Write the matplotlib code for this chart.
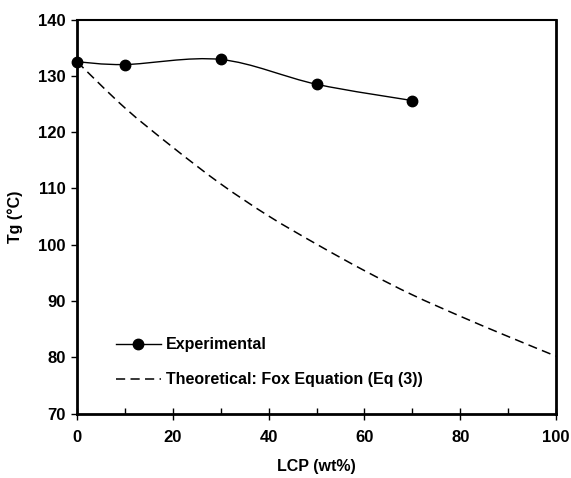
import matplotlib

matplotlib.use("Agg")
import matplotlib.pyplot as plt
from matplotlib.lines import Line2D
from matplotlib.patches import PathPatch
from matplotlib.path import Path

plt.rcParams["font.family"] = ["Liberation Sans", "DejaVu Sans"]
plt.rcParams["font.weight"] = "bold"

# experimental Tg values
exp_lcp = [0, 10, 30, 50, 70]
exp_tg = [132.5, 132.0, 132.9, 128.5, 125.6]

# theoretical curve (Fox equation)
fox_lcp = [0, 10, 20, 30, 40, 50, 60, 70, 80, 90, 100]
fox_tg = [132.5, 124.3, 117.3, 110.8, 105.1, 100.1, 95.4, 91.1, 87.3, 83.7, 80.2]

x_ticks = [0, 20, 40, 60, 80, 100]
x_minor = [10, 30, 50, 70, 90]
y_ticks = [70, 80, 90, 100, 110, 120, 130, 140]


def smooth_path(xs, ys):
    """Bezier path through the points (Excel style smoothed line)."""
    pts = list(zip(xs, ys))
    verts = [pts[0]]
    codes = [Path.MOVETO]
    n = len(pts)
    for i in range(n - 1):
        p0 = pts[max(i - 1, 0)]
        p1 = pts[i]
        p2 = pts[i + 1]
        p3 = pts[min(i + 2, n - 1)]
        c1 = (p1[0] + (p2[0] - p0[0]) / 6, p1[1] + (p2[1] - p0[1]) / 6)
        c2 = (p2[0] - (p3[0] - p1[0]) / 6, p2[1] - (p3[1] - p1[1]) / 6)
        verts += [c1, c2, p2]
        codes += [Path.CURVE4] * 3
    return Path(verts, codes)


fig = plt.figure(figsize=(5.71, 4.78), dpi=100)
ax = fig.add_axes([0.1349, 0.1347, 0.8388, 0.8245])

ax.add_patch(PathPatch(smooth_path(exp_lcp, exp_tg), fill=False, color="black", lw=1.0))
ax.plot(exp_lcp, exp_tg, "o", color="black", markersize=7.5, clip_on=False, zorder=3)
ax.add_patch(PathPatch(smooth_path(fox_lcp, fox_tg), fill=False, color="black",
                       lw=1.1, linestyle=(0, (6, 3.5))))

ax.set_xlim(0, 100)
ax.set_ylim(70, 140)
ax.set_xticks(x_ticks)
ax.set_xticks(x_minor, minor=True)
ax.set_yticks(y_ticks)
ax.tick_params(axis="x", which="major", direction="inout", length=8, width=1.0,
               labelsize=12, pad=8)
ax.tick_params(axis="x", which="minor", direction="in", length=4, width=1.0)
ax.tick_params(axis="y", which="major", direction="out", length=4, width=1.0,
               labelsize=12, pad=4)
for side in ["left", "bottom", "right"]:
    ax.spines[side].set_linewidth(2.0)
ax.spines["top"].set_linewidth(1.5)

ax.set_xlabel("LCP (wt%)", fontsize=11.5, fontweight="bold", labelpad=10)
ax.set_ylabel("Tg (\u00b0C)", fontsize=11.5, fontweight="bold", labelpad=11)

handles = [
    Line2D([], [], color="black", lw=1.0, marker="o", markersize=7.5),
    Line2D([], [], color="black", lw=1.1, linestyle=(0, (6, 3.5))),
]
labels = ["Experimental", "Theoretical: Fox Equation (Eq (3))"]
ax.legend(handles, labels, loc="upper left", bbox_to_anchor=(0.068, 0.21),
          frameon=False, fontsize=11.5, handlelength=2.8, handletextpad=0.35,
          labelspacing=1.25, borderaxespad=0)

fig.savefig("out.png", dpi=100)
